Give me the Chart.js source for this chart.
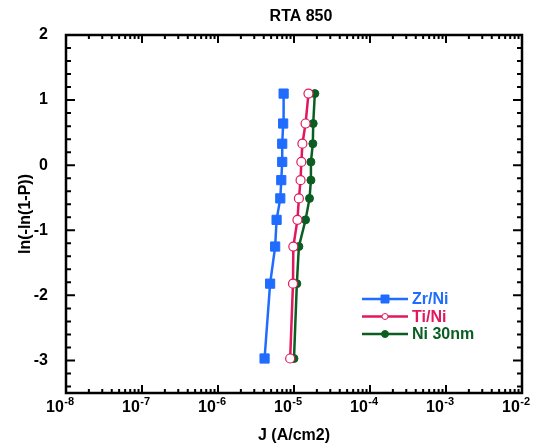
<!DOCTYPE html>
<html>
<head>
<meta charset="utf-8">
<script src="https://cdn.jsdelivr.net/npm/chart.js@4"></script>
<style>
  html, body { margin: 0; padding: 0; background: #fff; }
  #wrap { width: 536px; height: 445px; }
</style>
</head>
<body>
<div id="wrap"><canvas id="weibullChart"></canvas></div>
<script>
// --- données (du bas vers le haut) ---
const lnlnP = [-2.97, -1.82, -1.25, -0.84, -0.51, -0.23, 0.05, 0.33, 0.64, 1.10];
const zrNi  = [4.1e-6, 4.85e-6, 5.65e-6, 5.9e-6, 6.6e-6, 6.8e-6, 7.0e-6, 7.0e-6, 7.2e-6, 7.3e-6];
const tiNi  = [8.9e-6, 9.7e-6, 9.8e-6, 1.11e-5, 1.16e-5, 1.22e-5, 1.25e-5, 1.29e-5, 1.42e-5, 1.55e-5];
const ni30  = [1.0e-5, 1.09e-5, 1.16e-5, 1.42e-5, 1.6e-5, 1.67e-5, 1.67e-5, 1.77e-5, 1.79e-5, 1.88e-5];
const seriesNames = ['Zr/Ni', 'Ti/Ni', 'Ni 30nm'];
const xExponents = [-8, -7, -6, -5, -4, -3, -2];
const yTicks = [-3, -2, -1, 0, 1, 2];

const FONT = '"Liberation Sans", Arial, sans-serif';
const BLUE = '#1f6cff';
const PINK = '#e0195c';
const GREEN = '#0b5e22';

function toPoints(xs) {
    return xs.map((v, i) => ({ x: v, y: lnlnP[i] }));
}

// --- cadre, graduations internes, labels 10^n, titre et légende ---
const framePlugin = {
    id: 'frame',
    afterDraw(chart) {
        const ctx = chart.ctx;
        const a = chart.chartArea;
        const xs = chart.scales.x;
        const ys = chart.scales.y;
        ctx.save();
        ctx.strokeStyle = '#000';

        // graduations x (haut et bas)
        ctx.lineWidth = 2;
        for (let k = -8; k <= -2; k++) {
            for (let m = 1; m <= 9; m++) {
                if (k === -2 && m > 1) break;
                const px = xs.getPixelForValue(m * Math.pow(10, k));
                const len = m === 1 ? 8 : 4;
                ctx.beginPath();
                ctx.moveTo(px, a.bottom); ctx.lineTo(px, a.bottom - len);
                ctx.moveTo(px, a.top); ctx.lineTo(px, a.top + len);
                ctx.stroke();
            }
        }
        // graduations y (gauche et droite), pas de 0.2
        for (let i = -17; i <= 10; i++) {
            const py = ys.getPixelForValue(i / 5);
            const len = i % 5 === 0 ? 9 : 5;
            ctx.beginPath();
            ctx.moveTo(a.left, py); ctx.lineTo(a.left + len, py);
            ctx.moveTo(a.right, py); ctx.lineTo(a.right - len, py);
            ctx.stroke();
        }
        // cadre
        ctx.lineWidth = 2.5;
        ctx.strokeRect(a.left, a.top, a.right - a.left, a.bottom - a.top);

        // labels x en puissances de 10
        ctx.fillStyle = '#000';
        ctx.textBaseline = 'alphabetic';
        ctx.textAlign = 'left';
        xExponents.forEach(e => {
            const px = xs.getPixelForValue(Math.pow(10, e));
            ctx.font = 'bold 16px ' + FONT;
            ctx.fillText('10', px - 20, 412);
            const w = ctx.measureText('10').width;
            ctx.font = 'bold 11px ' + FONT;
            ctx.fillText('-' + Math.abs(e), px - 20 + w + 0.5, 405);
        });

        // titre
        ctx.font = 'bold 16px ' + FONT;
        ctx.textAlign = 'center';
        ctx.textBaseline = 'middle';
        ctx.fillText('RTA 850', 301, 17);

        // légende
        const rows = [299, 316.5, 334];
        chart.data.datasets.forEach((ds, i) => {
            const y = rows[i];
            ctx.strokeStyle = ds.borderColor;
            ctx.lineWidth = 2.5;
            ctx.beginPath();
            ctx.moveTo(362, y); ctx.lineTo(408, y);
            ctx.stroke();
            ctx.lineWidth = 1;
            ctx.fillStyle = ds.pointBackgroundColor;
            ctx.strokeStyle = ds.pointBorderColor;
            ctx.beginPath();
            if (ds.pointStyle === 'rect') {
                ctx.rect(381, y - 4, 8, 8);
            } else {
                ctx.arc(385, y, ds.pointStyle === 'circle' && i === 1 ? 3 : 3.5, 0, Math.PI * 2);
            }
            ctx.fill();
            ctx.stroke();
            ctx.fillStyle = ds.borderColor;
            ctx.font = 'bold 16px ' + FONT;
            ctx.textAlign = 'left';
            ctx.textBaseline = 'middle';
            ctx.fillText(ds.label, 412, y + 1);
        });
        ctx.restore();
    }
};

const ctx = document.getElementById('weibullChart').getContext('2d');
const weibullChart = new Chart(ctx, {
    type: 'scatter',
    data: {
        datasets: [{
            label: seriesNames[0],
            data: toPoints(zrNi),
            showLine: true,
            borderColor: BLUE,
            borderWidth: 2.5,
            pointStyle: 'rect',
            pointRadius: 6.5,
            pointBackgroundColor: BLUE,
            pointBorderColor: BLUE,
            pointBorderWidth: 1
        }, {
            label: seriesNames[1],
            data: toPoints(tiNi),
            showLine: true,
            borderColor: PINK,
            borderWidth: 2.5,
            pointStyle: 'circle',
            pointRadius: 4.5,
            pointBackgroundColor: '#fff',
            pointBorderColor: PINK,
            pointBorderWidth: 1.2
        }, {
            label: seriesNames[2],
            data: toPoints(ni30),
            showLine: true,
            borderColor: GREEN,
            borderWidth: 2.5,
            pointStyle: 'circle',
            pointRadius: 4,
            pointBackgroundColor: GREEN,
            pointBorderColor: GREEN,
            pointBorderWidth: 1
        }]
    },
    options: {
        responsive: true,
        maintainAspectRatio: false,
        animation: false,
        layout: { padding: { top: 35, right: 14, left: 0, bottom: 0 } },
        plugins: {
            legend: { display: false },
            title: { display: false },
            tooltip: { enabled: false }
        },
        scales: {
            x: {
                type: 'logarithmic',
                min: 1e-8,
                max: 1e-2,
                grid: { display: false, drawTicks: false },
                border: { display: false },
                ticks: { display: false },
                title: {
                    display: true,
                    text: 'J (A/cm2)',
                    color: '#000',
                    font: { family: FONT, size: 16, weight: 'bold' },
                    padding: 0
                },
                afterFit(scale) { scale.height = 52; }
            },
            y: {
                type: 'linear',
                min: -3.5,
                max: 2,
                grid: { display: false, drawTicks: false },
                border: { display: false },
                ticks: {
                    stepSize: 1,
                    includeBounds: false,
                    padding: 18,
                    color: '#000',
                    font: { family: FONT, size: 16, weight: 'bold' },
                    callback: v => yTicks.includes(v) ? String(v) : ''
                },
                title: {
                    display: true,
                    text: 'ln(-ln(1-P))',
                    color: '#000',
                    font: { family: FONT, size: 16, weight: 'bold' },
                    padding: 16
                },
                afterFit(scale) { scale.width = 66; }
            }
        }
    },
    plugins: [framePlugin]
});
</script>
</body>
</html>
